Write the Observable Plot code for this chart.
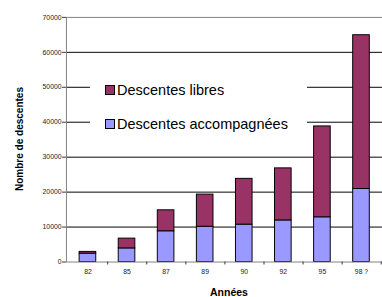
<!DOCTYPE html>
<html><head><meta charset="utf-8">
<script src="https://cdn.jsdelivr.net/npm/d3@7"></script>
<script src="https://cdn.jsdelivr.net/npm/@observablehq/plot@0.6"></script>
<style>
html,body{margin:0;padding:0;background:#fff;overflow:hidden}
#wrap{position:relative;width:382px;height:297px;overflow:hidden;font-family:"Liberation Sans",Arial,sans-serif;background:#fff}
#chart{position:absolute;left:0;top:0}
.legend{position:absolute;left:90px;top:62px;width:217px;height:86px;background:#fff}
.item{position:absolute;left:15px;height:16px;display:flex;align-items:center;font-size:14.5px;color:#000;white-space:nowrap;transform:translateY(-50%)}
.sw{width:8px;height:8px;border:1px solid #000;margin-right:2px}
.ylab{position:absolute;left:19.5px;top:138.5px;font-weight:bold;font-size:10px;line-height:1;white-space:nowrap;transform:translate(-50%,-50%) rotate(-90deg)}
.xlab{position:absolute;left:229px;top:292px;font-weight:bold;font-size:10.5px;line-height:1;white-space:nowrap;transform:translate(-50%,-50%)}
</style>
</head><body>
<div id="wrap">
<div id="chart"></div>
<div class="legend">
  <div class="item" style="top:28px"><span class="sw" style="background:#993366"></span>Descentes libres</div>
  <div class="item" style="top:61.5px"><span class="sw" style="background:#9999FF"></span>Descentes accompagnées</div>
</div>
<div class="ylab">Nombre de descentes</div>
<div class="xlab">Années</div>
</div>
<script>
const years = ["82","85","87","89","90","92","95","98 ?"];
const accompagnees = [2400, 3900, 8800, 10100, 10700, 11900, 12800, 20900];
const libres = [500, 2800, 6000, 9200, 13100, 14900, 26000, 44000];
const yTicks = [0,10000,20000,30000,40000,50000,60000,70000];
const series = ["Descentes accompagnées","Descentes libres"];
const colors = ["#9999FF","#993366"];

const data = [];
years.forEach((yr,i)=>{
  data.push({year: yr, type: series[0], value: accompagnees[i]});
  data.push({year: yr, type: series[1], value: libres[i]});
});

const W = 391, ML = 67.5, MR = 0;
const pin = 0.585;
const step = (W - ML - MR) / years.length;

const chart = Plot.plot({
  width: W, height: 297,
  marginTop: 17.3, marginBottom: 29.3, marginLeft: ML, marginRight: MR,
  style: {fontFamily: '"Liberation Sans", Arial, sans-serif', background: "#fff", overflow: "visible"},
  x: {domain: years, paddingInner: pin, paddingOuter: pin/2},
  y: {domain: [0,70000]},
  color: {domain: series, range: colors},
  marks: [
    Plot.gridY(yTicks.filter(v=>v>0 && v<70000), {stroke: "#000", strokeOpacity: 1}),
    Plot.barY(data, {x: "year", y: "value", fill: "type", stroke: "#000", strokeWidth: 1}),
    Plot.frame({stroke: "#808080"}),
    Plot.axisY(yTicks, {tickSize: 4, tickPadding: 1, fontSize: 7, label: null, stroke: "#333", fill: "#222", tickFormat: d => String(d)}),
    Plot.axisX(years, {tickSize: 3, tickFormat: () => "", dx: step/2, stroke: "#333", label: null}),
    Plot.axisX(years, {tickSize: 0, tickPadding: 7, fontSize: 7, fill: "#222", label: null})
  ]
});
document.getElementById("chart").appendChild(chart);
</script>
</body></html>
